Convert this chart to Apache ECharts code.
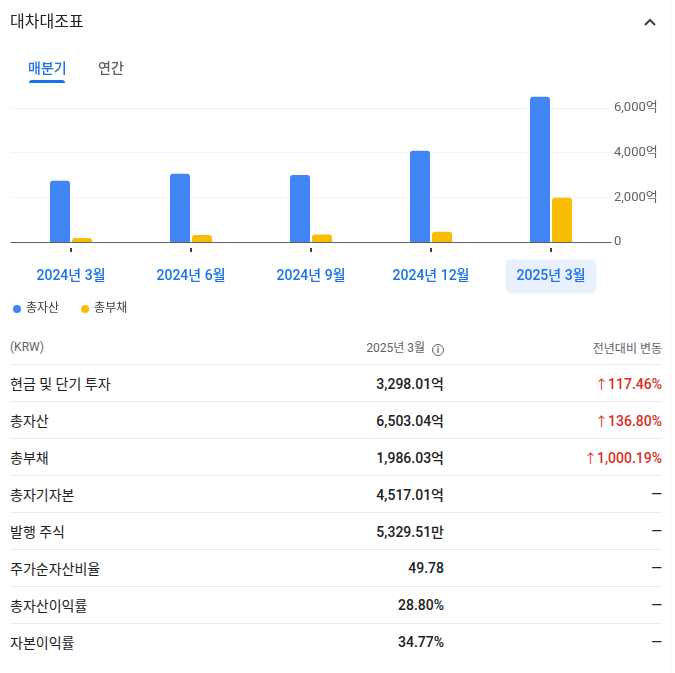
<!DOCTYPE html>
<html>
<head>
<meta charset="utf-8">
<script src="https://cdn.jsdelivr.net/npm/echarts@6/dist/echarts.min.js"></script>
<style>
  body { margin: 0; background: #fff; font-family: Roboto, "Noto Sans CJK KR", sans-serif; color: #202124; }
  #wrap { position: relative; width: 675px; height: 673px; overflow: hidden; }
  #main { position: absolute; left: 0; top: 0; width: 675px; height: 325px; }
  .abs { position: absolute; }
  #title { left: 10px; top: 11px; font-size: 16px; line-height: 22px; }
  #tab1 { left: 28px; top: 58px; font-size: 14px; line-height: 20px; color: #1a73e8; font-weight: 500; }
  #tab2 { left: 98px; top: 58px; font-size: 14px; line-height: 20px; color: #5f6368; font-weight: 500; }
  #tabline { left: 29px; top: 80px; width: 36px; height: 3px; background: #1a73e8; border-radius: 3px 3px 0 0; }
  #chev { left: 643px; top: 15px; }
  #edge { left: 670px; top: 0; width: 1px; height: 673px; background: #f1f3f4; }
  #table { left: 10px; top: 330px; width: 652px; }
  .row { display: flex; height: 37px; align-items: center; border-top: 1px solid #e8eaed; box-sizing: border-box; }
  .row.head { height: 34px; border-top: none; font-size: 12px; color: #5f6368; }
  .c1 { width: 240px; font-size: 14px; }
  .c2 { width: 194px; text-align: right; font-size: 14px; font-weight: 500; }
  .c3 { width: 218px; text-align: right; font-size: 14px; font-weight: 500; }
  .head .c1, .head .c2, .head .c3 { font-size: 12px; font-weight: 400; color: #5f6368; }
  .up { color: #d93025; }
  .arr { font-weight: 400; font-size: 13px; }
  .info { display: inline-block; width: 10px; height: 10px; border: 1.5px solid #5f6368; border-radius: 50%;
          font-size: 9px; line-height: 10px; text-align: center; font-weight: 700; margin-left: 7px; vertical-align: -1px; }
</style>
</head>
<body>
<div id="wrap">
  <div id="main"></div>
  <div id="title" class="abs">대차대조표</div>
  <svg id="chev" class="abs" width="14" height="14" viewBox="0 0 14 14"><polyline points="2,10 7,5 12,10" fill="none" stroke="#3c4043" stroke-width="2"/></svg>
  <div id="tab1" class="abs">매분기</div>
  <div id="tab2" class="abs">연간</div>
  <div id="tabline" class="abs"></div>
  <div id="edge" class="abs"></div>
  <div id="table" class="abs"></div>
</div>
<script>
// 분기별 데이터 (억 원)
var quarters = ['2024년 3월', '2024년 6월', '2024년 9월', '2024년 12월', '2025년 3월'];
var totalAssets = [2746, 3060, 3000, 4085, 6503.04];
var totalLiabilities = [181, 315, 335, 455, 1986.03];
var yTicks = [0, 2000, 4000, 6000];

// 표 데이터
var rowLabels = ['현금 및 단기 투자', '총자산', '총부채', '총자기자본', '발행 주식', '주가순자산비율', '총자산이익률', '자본이익률'];
var rowValues = ['3,298.01억', '6,503.04억', '1,986.03억', '4,517.01억', '5,329.51만', '49.78', '28.80%', '34.77%'];
var rowChanges = ['117.46%', '136.80%', '1,000.19%', '', '', '', '', ''];

var selected = quarters.length - 1;

var myChart = echarts.init(document.getElementById('main'));

var option = {
    animation: false,
    textStyle: { fontFamily: 'Roboto, "Noto Sans CJK KR", sans-serif' },
    grid: { left: 11, right: 64, top: 88, bottom: 83 },
    legend: {
        left: 8, top: 298,
        icon: 'circle', itemWidth: 8, itemHeight: 8, itemGap: 22,
        textStyle: { fontSize: 12, color: '#3c4043' },
        data: ['총자산', '총부채']
    },
    xAxis: [{
        type: 'category',
        data: quarters,
        axisLine: { lineStyle: { color: '#5f6368', width: 1 } },
        axisTick: { show: false },
        axisLabel: {
            margin: 27,
            formatter: function (v, i) {
                return i === selected ? '{sel|' + v + '}' : '{n|' + v + '}';
            },
            rich: {
                n: { color: '#1a73e8', fontSize: 14, fontWeight: 500, padding: [10, 11], lineHeight: 15 },
                sel: { color: '#1a73e8', fontSize: 14, fontWeight: 500, padding: [10, 11], lineHeight: 15,
                       backgroundColor: '#e8f0fe', borderRadius: 6 }
            }
        }
    }, {
        type: 'category',
        data: quarters,
        position: 'bottom',
        offset: 6,
        axisLine: { show: false },
        axisTick: { show: true, alignWithLabel: true, length: 4, lineStyle: { color: '#3c4043', width: 2 } },
        axisLabel: { show: false }
    }],
    yAxis: {
        type: 'value',
        position: 'right',
        min: yTicks[0],
        max: 6900,
        interval: 2000,
        axisLine: { show: false },
        axisTick: { show: false },
        axisLabel: {
            margin: 3,
            color: '#5f6368',
            fontSize: 13,
            padding: [4, 0, 0, 0],
            showMaxLabel: false,
            formatter: function (v) {
                if (yTicks.indexOf(v) < 0) return '';
                return v === 0 ? '0' : v.toLocaleString('en-US') + '억';
            }
        },
        splitLine: { showMaxLine: false, lineStyle: { color: '#f1f3f4' } }
    },
    series: [{
        name: '총자산',
        type: 'bar',
        barWidth: 20,
        barGap: '10%',
        itemStyle: { color: '#4285f4', borderRadius: [3, 3, 0, 0] },
        data: totalAssets
    }, {
        name: '총부채',
        type: 'bar',
        barWidth: 20,
        barGap: '10%',
        itemStyle: { color: '#fbbc04', borderRadius: [3, 3, 0, 0] },
        data: totalLiabilities
    }]
};

myChart.setOption(option);

// 표
var html = '<div class="row head"><div class="c1">(KRW)</div>' +
    '<div class="c2">' + quarters[selected] + '<span class="info">i</span></div>' +
    '<div class="c3">전년대비 변동</div></div>';
for (var i = 0; i < rowLabels.length; i++) {
    var ch = rowChanges[i] ? '<span class="up"><span class="arr">↑</span>' + rowChanges[i] + '</span>' : '—';
    html += '<div class="row"><div class="c1">' + rowLabels[i] + '</div>' +
        '<div class="c2">' + rowValues[i] + '</div>' +
        '<div class="c3">' + ch + '</div></div>';
}
document.getElementById('table').innerHTML = html;
</script>
</body>
</html>
